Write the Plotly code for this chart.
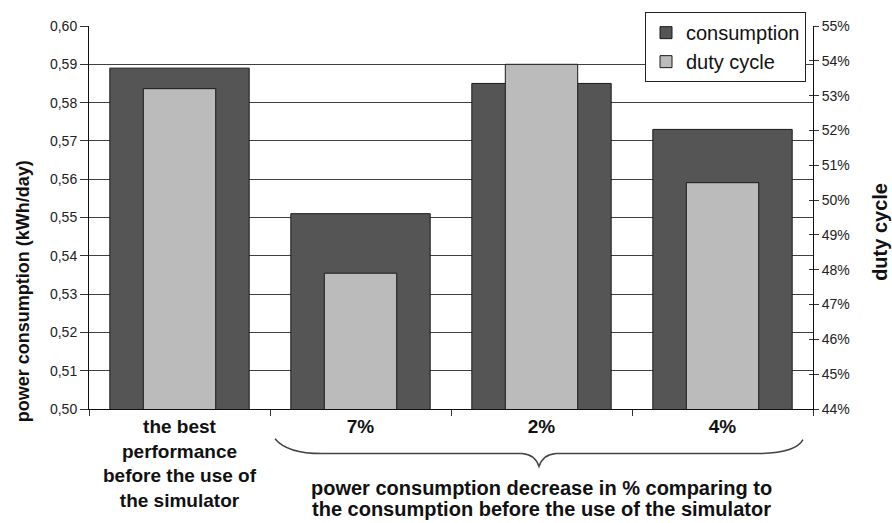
import plotly.graph_objects as go

# Data
categories = [
    "the best<br>performance<br>before the use of<br>the simulator",
    "7%",
    "2%",
    "4%",
]
consumption = [0.589, 0.551, 0.585, 0.573]      # kWh/day
duty_cycle = [53.2, 47.9, 53.9, 50.5]            # %

left_ticks = [0.50, 0.51, 0.52, 0.53, 0.54, 0.55, 0.56, 0.57, 0.58, 0.59, 0.60]
right_ticks = list(range(44, 56))
right_labels = [f"{v}%" for v in right_ticks]

FONT = "Liberation Sans, Arial, sans-serif"
INK = "#111111"

fig = go.Figure()
fig.add_trace(go.Bar(
    x=categories, y=consumption, name="consumption",
    marker=dict(color="#555555", line=dict(color="#1a1a1a", width=1)),
    width=0.77, yaxis="y", offsetgroup="a",
))
fig.add_trace(go.Bar(
    x=categories, y=duty_cycle, name="duty cycle",
    marker=dict(color="#bbbbbb", line=dict(color="#1a1a1a", width=1)),
    width=0.40, yaxis="y2", offsetgroup="a",
))

W, H = 892, 523
L, R, T, B = 89, 79, 24, 112
pw, ph = W - L - R, H - T - B


def px(x, y):
    """pixel position -> paper coordinates"""
    return (x - L) / pw, (H - B - y) / ph


# curly brace under the last three categories
pts = [(275, 441), (287, 456), (322, 456), (522, 456), (535, 457), (539, 469),
       (543, 457), (556, 456), (762, 456), (796, 455), (803, 442)]
p = [px(*q) for q in pts]
path = (f"M {p[0][0]},{p[0][1]} Q {p[1][0]},{p[1][1]} {p[2][0]},{p[2][1]} "
        f"L {p[3][0]},{p[3][1]} Q {p[4][0]},{p[4][1]} {p[5][0]},{p[5][1]} "
        f"Q {p[6][0]},{p[6][1]} {p[7][0]},{p[7][1]} "
        f"L {p[8][0]},{p[8][1]} Q {p[9][0]},{p[9][1]} {p[10][0]},{p[10][1]}")


def label(text, x, y, size, angle=0):
    xp, yp = px(x, y)
    return dict(text=f"<b>{text}</b>", textangle=angle, x=xp, y=yp,
                xref="paper", yref="paper", xanchor="center", yanchor="middle",
                showarrow=False, font=dict(size=size, family=FONT, color=INK))


fig.update_layout(
    width=W, height=H,
    margin=dict(l=L, r=R, t=T, b=B),
    paper_bgcolor="white", plot_bgcolor="white",
    separators=", ",
    barmode="overlay",
    font=dict(family=FONT, color=INK),
    showlegend=True,
    legend=dict(
        x=px(645, 0)[0], y=px(0, 10)[1], xanchor="left", yanchor="top",
        bgcolor="white", bordercolor="#222222", borderwidth=1,
        font=dict(size=20, family=FONT, color=INK),
        tracegroupgap=0, itemwidth=30,
    ),
    xaxis=dict(
        type="category",
        showline=True, linecolor=INK, linewidth=1,
        ticks="outside", tickson="boundaries", ticklen=6, tickcolor="#333333",
        tickfont=dict(size=19, family=FONT, color=INK, weight="bold"),
        showgrid=False,
    ),
    yaxis=dict(
        range=[0.50, 0.60], tickvals=left_ticks, tickformat=".2f",
        showline=True, linecolor=INK, linewidth=1,
        ticks="outside", ticklen=8, tickcolor="#333333",
        tickfont=dict(size=14, family=FONT, color="#222222"),
        showgrid=True, gridcolor="#404040", gridwidth=1,
        zeroline=False,
    ),
    yaxis2=dict(
        range=[44, 55], tickvals=right_ticks, ticktext=right_labels,
        overlaying="y", side="right",
        showline=True, linecolor=INK, linewidth=1,
        ticks="outside", ticklen=5, tickcolor="#333333",
        tickfont=dict(size=14, family=FONT, color="#222222"),
        showgrid=False, zeroline=False,
    ),
    # inner half of the crossing tick marks on the right axis
    yaxis3=dict(
        range=[44, 55], tickvals=right_ticks, overlaying="y", side="right",
        ticks="inside", ticklen=4, tickcolor="#333333",
        showticklabels=False, showline=False, showgrid=False, zeroline=False,
    ),
    shapes=[dict(type="path", path=path, xref="paper", yref="paper",
                 line=dict(color="#444444", width=1.5))],
    annotations=[
        label("power consumption (kWh/day)", 23, 292, 18, -90),
        label("duty cycle", 880, 232, 20, -90),
        label("power consumption decrease in % comparing to", 541, 491, 20),
        label("the consumption before the use of the simulator", 541, 512, 20),
    ],
)

# empty trace so the third axis is drawn
fig.add_trace(go.Scatter(x=[categories[0]], y=[None], yaxis="y3",
                         showlegend=False, hoverinfo="skip"))

fig.write_html("out.html")
